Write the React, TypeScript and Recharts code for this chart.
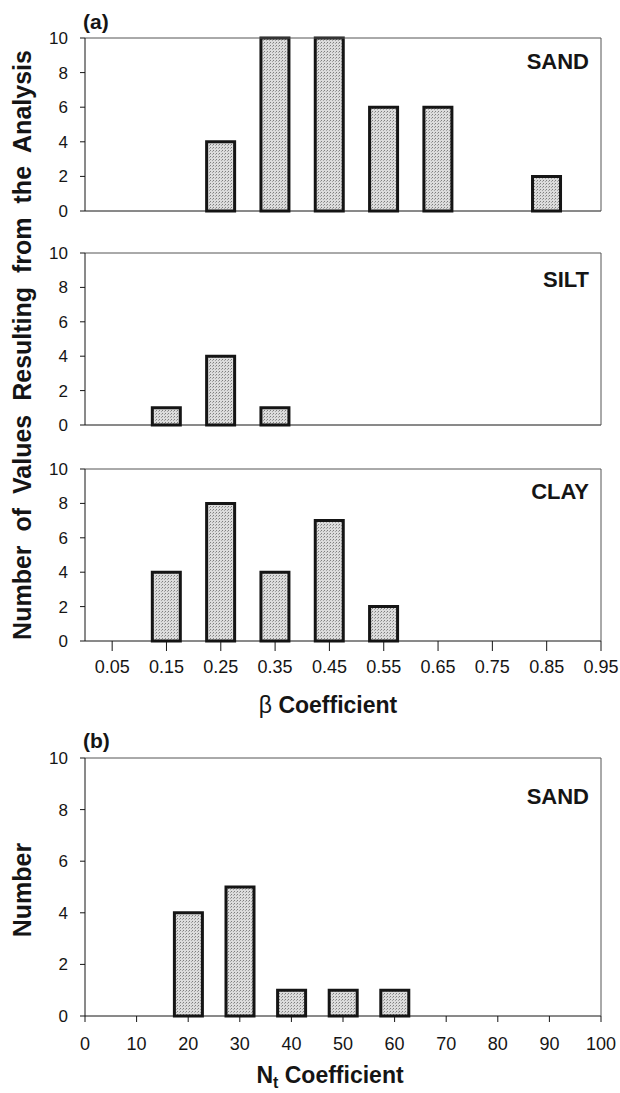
import React from 'react';
import { BarChart, Bar, XAxis, YAxis } from 'recharts';

// beta coefficient bins (a) and counts per soil type
const betaBins = [0.05, 0.15, 0.25, 0.35, 0.45, 0.55, 0.65, 0.75, 0.85, 0.95];
const sandBeta = [0, 0, 4, 10, 10, 6, 6, 0, 2, 0];
const siltBeta = [0, 1, 4, 1, 0, 0, 0, 0, 0, 0];
const clayBeta = [0, 4, 8, 4, 7, 2, 0, 0, 0, 0];

// Nt coefficient bins (b), sand only
const ntBins = [0, 10, 20, 30, 40, 50, 60, 70, 80, 90, 100];
const sandNt = [0, 0, 4, 5, 1, 1, 1, 0, 0, 0, 0];

const countTicks = [0, 2, 4, 6, 8, 10];

const FONT = '"Liberation Sans", Arial, Helvetica, sans-serif';
const INK = '#151515';
const FRAME = '#555';

const toRows = (bins: number[], counts: number[]) => bins.map((x, i) => ({ x, n: counts[i] }));

interface PanelProps {
  top: number;
  height: number;
  data: Array<{ x: number; n: number }>;
  domain: [number, number];
  ticks: number[];
  showLabels: boolean;
  xAxisHeight: number;
  tickLen: number;
  labelGap: number;
  barSize: number;
  id: string;
}

function Panel({ top, height, data, domain, ticks, showLabels, xAxisHeight, tickLen, labelGap, barSize, id }: PanelProps) {
  return (
    <div style={{ position: 'absolute', left: 0, top, width: 620, height }}>
      <BarChart width={620} height={height} data={data} margin={{ top: 38, right: 19, left: 55, bottom: 0 }}>
        <defs>
          <pattern id={id} width={3} height={3} patternUnits="userSpaceOnUse">
            <rect width={3} height={3} fill="#dcdcdc" />
            <rect width={1} height={1} fill="#7e7e7e" />
            <rect x={2} y={1} width={1} height={1} fill="#a4a4a4" />
          </pattern>
        </defs>
        <XAxis
          dataKey="x"
          type="number"
          domain={domain}
          ticks={ticks}
          interval={0}
          height={xAxisHeight}
          tickSize={tickLen}
          tickMargin={labelGap}
          axisLine={{ stroke: INK, strokeWidth: 1 }}
          tickLine={{ stroke: INK, strokeWidth: 1 }}
          tick={showLabels ? { fontSize: 18, fill: INK } : false}
        />
        <XAxis
          xAxisId="top"
          orientation="top"
          mirror
          type="number"
          domain={domain}
          ticks={ticks}
          interval={0}
          height={1}
          tickSize={5}
          axisLine={{ stroke: FRAME, strokeWidth: 1 }}
          tickLine={{ stroke: FRAME, strokeWidth: 1 }}
          tick={false}
        />
        <YAxis
          type="number"
          domain={[0, 10]}
          ticks={countTicks}
          interval={0}
          width={30}
          tickSize={5}
          tickMargin={12}
          axisLine={{ stroke: INK, strokeWidth: 1 }}
          tickLine={{ stroke: INK, strokeWidth: 1 }}
          tick={{ fontSize: 17, fill: INK }}
        />
        <YAxis
          yAxisId="right"
          orientation="right"
          mirror
          type="number"
          domain={[0, 10]}
          ticks={countTicks}
          interval={0}
          width={1}
          tickSize={5}
          axisLine={{ stroke: FRAME, strokeWidth: 1 }}
          tickLine={{ stroke: FRAME, strokeWidth: 1 }}
          tick={false}
        />
        <Bar dataKey="n" barSize={barSize} fill={`url(#${id})`} stroke={INK} strokeWidth={3} isAnimationActive={false} />
      </BarChart>
    </div>
  );
}

const tag: React.CSSProperties = { position: 'absolute', fontWeight: 'bold', fontSize: 22, lineHeight: '26px', color: INK, whiteSpace: 'nowrap' };

export default function App() {
  return (
    <div style={{ position: 'absolute', left: 0, top: 0, width: 620, height: 1093, background: '#fff', fontFamily: FONT, color: INK }}>
      <Panel top={0} height={223} data={toRows(betaBins, sandBeta)} domain={[0, 0.95]} ticks={betaBins} showLabels={false} xAxisHeight={12} tickLen={8} labelGap={0} barSize={28} id="dotsA" />
      <Panel top={215} height={222} data={toRows(betaBins, siltBeta)} domain={[0, 0.95]} ticks={betaBins} showLabels={false} xAxisHeight={12} tickLen={8} labelGap={0} barSize={28} id="dotsB" />
      <Panel top={431} height={250} data={toRows(betaBins, clayBeta)} domain={[0, 0.95]} ticks={betaBins} showLabels xAxisHeight={40} tickLen={10} labelGap={9} barSize={28} id="dotsC" />
      <Panel top={720} height={336} data={toRows(ntBins, sandNt)} domain={[0, 100]} ticks={ntBins} showLabels xAxisHeight={40} tickLen={6} labelGap={15} barSize={28} id="dotsD" />

      <div style={{ ...tag, left: 83, top: 9, fontSize: 21 }}>(a)</div>
      <div style={{ ...tag, left: 83, top: 728, fontSize: 21 }}>(b)</div>

      <div style={{ ...tag, right: 31, top: 49 }}>SAND</div>
      <div style={{ ...tag, right: 31, top: 267 }}>SILT</div>
      <div style={{ ...tag, right: 31, top: 479 }}>CLAY</div>
      <div style={{ ...tag, right: 31, top: 784 }}>SAND</div>

      <div style={{ ...tag, left: 178, width: 300, textAlign: 'center', top: 692, fontSize: 23 }}>
        <span style={{ fontWeight: 'normal' }}>β</span> Coefficient
      </div>
      <div style={{ ...tag, left: 180, width: 300, textAlign: 'center', top: 1062, fontSize: 23 }}>
        N<span style={{ fontSize: 16, lineHeight: 0, position: 'relative', top: 5 }}>t</span> Coefficient
      </div>

      <div
        style={{
          ...tag,
          left: 22 - 330,
          top: 345 - 13,
          width: 660,
          textAlign: 'center',
          fontSize: 25,
          wordSpacing: 7,
          transform: 'rotate(-90deg)',
        }}
      >
        Number of Values Resulting from the Analysis
      </div>
      <div style={{ ...tag, left: 22 - 100, top: 890 - 13, width: 200, textAlign: 'center', fontSize: 25, transform: 'rotate(-90deg)' }}>
        Number
      </div>
    </div>
  );
}
